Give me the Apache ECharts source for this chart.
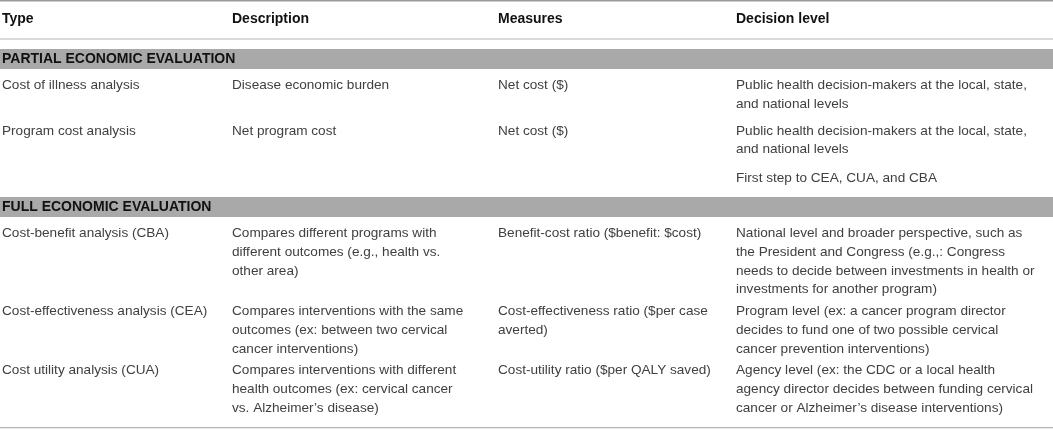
<!DOCTYPE html>
<html>
<head>
<meta charset="utf-8">
<script src="https://cdn.jsdelivr.net/npm/echarts@6/dist/echarts.min.js"></script>
<style>html,body{margin:0;padding:0;background:#fff}#c{width:1053px;height:445px}</style>
</head>
<body>
<div id="c"></div>
<script>
// ---- table content ----
const columns = ['Type', 'Description', 'Measures', 'Decision level'];
const sections = ['PARTIAL ECONOMIC EVALUATION', 'FULL ECONOMIC EVALUATION'];
const rowSection = [0, 0, 1, 1, 1];
const types = [
  'Cost of illness analysis',
  'Program cost analysis',
  'Cost-benefit analysis (CBA)',
  'Cost-effectiveness analysis (CEA)',
  'Cost utility analysis (CUA)'
];
const descriptions = [
  'Disease economic burden',
  'Net program cost',
  'Compares different programs with\ndifferent outcomes (e.g., health vs.\nother area)',
  'Compares interventions with the same\noutcomes (ex: between two cervical\ncancer interventions)',
  'Compares interventions with different\nhealth outcomes (ex: cervical cancer\nvs. Alzheimer\u2019s disease)'
];
const measures = [
  'Net cost ($)',
  'Net cost ($)',
  'Benefit-cost ratio ($benefit: $cost)',
  'Cost-effectiveness ratio ($per case\naverted)',
  'Cost-utility ratio ($per QALY saved)'
];
const decisionLevels = [
  'Public health decision-makers at the local, state,\nand national levels',
  'Public health decision-makers at the local, state,\nand national levels\n\nFirst step to CEA, CUA, and CBA',
  'National level and broader perspective, such as\nthe President and Congress (e.g.,: Congress\nneeds to decide between investments in health or\ninvestments for another program)',
  'Program level (ex: a cancer program director\ndecides to fund one of two possible cervical\ncancer prevention interventions)',
  'Agency level (ex: the CDC or a local health\nagency director decides between funding cervical\ncancer or Alzheimer\u2019s disease interventions)'
];

// ---- layout / style (not data) ----
const W = 1053, H = 445;
const L = {
  colX: [2, 232, 498, 736],
  headerY: 19, headerRule: 39,
  bandGapAbove: 10, bandH: 20, firstRowOffset: 36,
  lineH: 18.9, paraGap: 10, rowGap: [8, 2.5],
  afterSection: 18.4, bottomAfter: 19.5
};
const fontBody = '13.6px "Liberation Sans", Arial, sans-serif';
const fontBold = 'bold 14px "Liberation Sans", Arial, sans-serif';
const bodyColor = '#404040', boldColor = '#111', bandColor = '#a9a9a9', ruleColor = '#b4b4b4';

// Build the list of table elements with computed vertical positions
const cells = [types, descriptions, measures, decisionLevels];
const items = [];
items.push({ kind: 'top' });
items.push({ kind: 'header' });
let y = L.headerRule;
let prevSection = -1;
let lastCenter = null;
for (let r = 0; r < types.length; r++) {
  const s = rowSection[r];
  if (s !== prevSection) {
    const bandTop = lastCenter === null ? y + L.bandGapAbove : lastCenter + L.afterSection;
    items.push({ kind: 'band', s, top: bandTop });
    y = bandTop + L.firstRowOffset;
    prevSection = s;
  } else {
    y = lastCenter + L.lineH + L.rowGap[s];
  }
  let maxBottom = y;
  const lines = [];
  for (let c = 0; c < 4; c++) {
    let yy = y;
    const parts = cells[c][r].split('\n');
    for (let k = 0; k < parts.length; k++) {
      if (parts[k] === '') { yy += L.paraGap; continue; }
      lines.push({ c, text: parts[k], y: yy });
      if (yy > maxBottom) maxBottom = yy;
      yy += L.lineH;
    }
  }
  items.push({ kind: 'row', r, lines });
  lastCenter = maxBottom;
}
items.push({ kind: 'bottom', y: lastCenter + L.bottomAfter });

const chart = echarts.init(document.getElementById('c'), null, { renderer: 'canvas' });
chart.setOption({
  animation: false,
  grid: { left: 0, right: 0, top: 0, bottom: 0 },
  xAxis: { type: 'value', min: 0, max: W, show: false },
  yAxis: { type: 'value', min: 0, max: H, inverse: true, show: false },
  series: [{
    type: 'custom',
    clip: false,
    data: items.map((d, i) => [i, i]),
    renderItem: function (params, api) {
      const it = items[api.value(0)];
      const P = (x, yv) => api.coord([x, yv]);
      const ch = [];
      const rule = (yv, color, w) => {
        const a = P(0, yv), b = P(W, yv);
        ch.push({ type: 'line', shape: { x1: a[0], y1: a[1], x2: b[0], y2: b[1] }, style: { stroke: color, lineWidth: w } });
      };
      const text = (x, yv, t, font, fill) => {
        const p = P(x, yv);
        ch.push({ type: 'text', style: { text: t, x: p[0], y: p[1], font, fill, align: 'left', verticalAlign: 'middle' } });
      };
      if (it.kind === 'top') {
        rule(0.8, '#9a9a9a', 1.6);
      } else if (it.kind === 'header') {
        columns.forEach((t, c) => text(L.colX[c], L.headerY, t, fontBold, boldColor));
        rule(L.headerRule, ruleColor, 1.2);
      } else if (it.kind === 'band') {
        const a = P(0, it.top), b = P(W, it.top + L.bandH);
        ch.push({ type: 'rect', shape: { x: a[0], y: a[1], width: b[0] - a[0], height: b[1] - a[1] }, style: { fill: bandColor } });
        text(L.colX[0], it.top + L.bandH / 2, sections[it.s], fontBold, boldColor);
      } else if (it.kind === 'row') {
        it.lines.forEach(l => text(L.colX[l.c], l.y, l.text, fontBody, bodyColor));
      } else if (it.kind === 'bottom') {
        rule(it.y, ruleColor, 1.4);
      }
      return { type: 'group', children: ch };
    }
  }]
});
</script>
</body>
</html>
